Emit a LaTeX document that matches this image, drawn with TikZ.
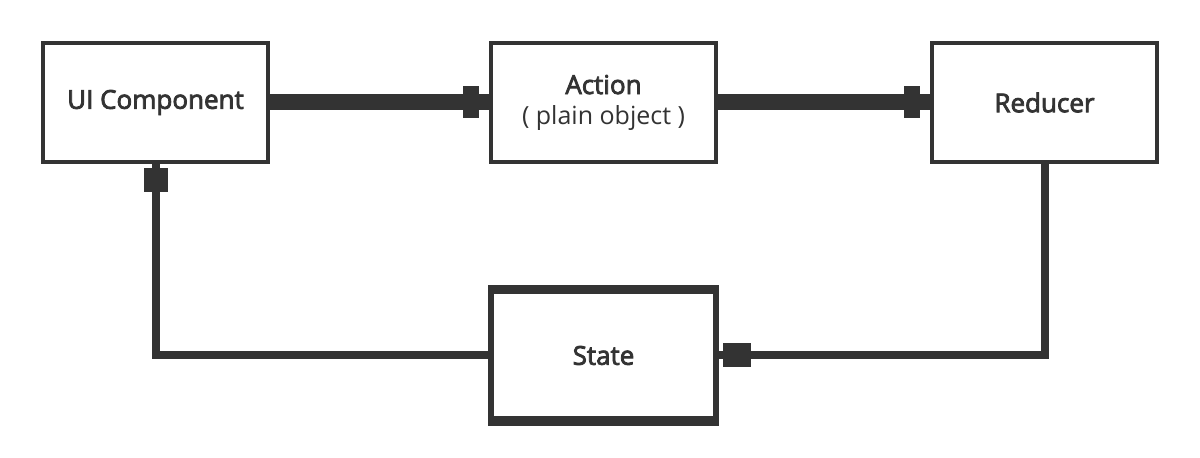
\documentclass[tikz,border=0pt]{standalone}
\usepackage{fontspec}
\setmainfont{Open Sans}
\newfontfamily\titlefont{Open Sans}[FakeBold=3]
\usepackage{tikz}
\usetikzlibrary{arrows.meta,positioning,decorations.markings}
\definecolor{ink}{HTML}{333333}

\begin{document}
\begin{tikzpicture}[x=0.5pt, y=-0.5pt, every node/.style={font=\titlefont\fontsize{13pt}{15pt}\selectfont},
  box/.style={draw=ink,line width=2pt,fill=white,minimum width=112.5pt,minimum height=59.5pt,
    align=center,text=ink,inner sep=0pt},
  flow/.style={draw=ink,line width=8pt,postaction={decorate,decoration={markings,
    mark=at position -0.1pt with {\fill[ink] (-13pt,-8pt) rectangle (-5pt,8pt);}}}},
  feedback/.style={draw=ink,line width=4pt,postaction={decorate,decoration={markings,
    mark=at position -0.1pt with {\fill[ink] (-#1,-6pt) rectangle (-2pt,6pt);}}}}]
  \useasboundingbox (0,0) rectangle (1200,458);

  \node[box] (ui) at (155.5,102.5) {UI Component};
  \node[box] (action) at (603.5,102.5)
    {Action\\[0pt]{\normalfont\fontsize{12.5pt}{14pt}\selectfont ( plain object )}};
  \node[box] (reducer) at (1044.5,102.5) {Reducer};
  \node[box,line width=3pt,minimum height=64.5pt] (state) at (603.5,355.5) {State};
  \draw[ink,line width=4.5pt] ([yshift=-0.75pt]state.north west) -- ([yshift=-0.75pt]state.north east);
  \draw[ink,line width=5pt] ([yshift=1pt]state.south west) -- ([yshift=1pt]state.south east);

  \draw[flow] (ui.east) -- (action.west);
  \draw[flow] (action.east) -- (reducer.west);
  \draw[feedback=16pt] (reducer.south) |- (state.east);
  \draw[feedback=14pt] (state.west) -| (ui.south);
\end{tikzpicture}
\end{document}
